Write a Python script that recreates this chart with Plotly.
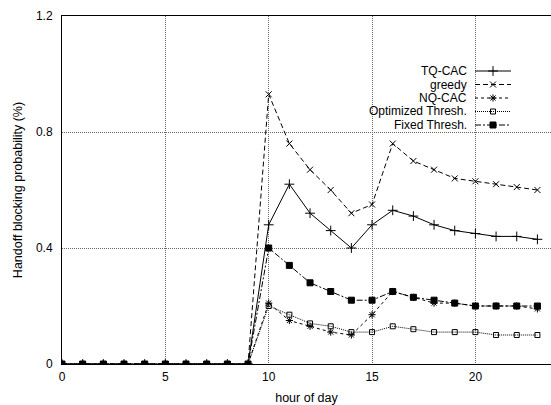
import plotly.graph_objects as go

# Handoff blocking probability (%) per hour of day for each admission scheme
hours = [0, 1, 2, 3, 4, 5, 6, 7, 8, 9, 10, 11, 12, 13, 14, 15, 16, 17, 18, 19, 20, 21, 22, 23]
tq_cac = [0, 0, 0, 0, 0, 0, 0, 0, 0, 0, 0.48, 0.62, 0.52, 0.46, 0.40, 0.48, 0.53, 0.51, 0.48, 0.46, 0.45, 0.44, 0.44, 0.43]
greedy = [0, 0, 0, 0, 0, 0, 0, 0, 0, 0, 0.93, 0.76, 0.67, 0.60, 0.52, 0.55, 0.76, 0.70, 0.67, 0.64, 0.63, 0.62, 0.61, 0.60]
nq_cac = [0, 0, 0, 0, 0, 0, 0, 0, 0, 0, 0.21, 0.15, 0.13, 0.11, 0.10, 0.17, 0.25, 0.23, 0.21, 0.21, 0.20, 0.20, 0.20, 0.19]
opt_thresh = [0, 0, 0, 0, 0, 0, 0, 0, 0, 0, 0.20, 0.17, 0.14, 0.13, 0.11, 0.11, 0.13, 0.12, 0.11, 0.11, 0.11, 0.10, 0.10, 0.10]
fixed_thresh = [0, 0, 0, 0, 0, 0, 0, 0, 0, 0, 0.40, 0.34, 0.28, 0.25, 0.22, 0.22, 0.25, 0.23, 0.22, 0.21, 0.20, 0.20, 0.20, 0.20]

series_names = ["TQ-CAC", "greedy", "NQ-CAC", "Optimized Thresh.", "Fixed Thresh."]
x_ticks = [0, 5, 10, 15, 20]
y_ticks = [0, 0.4, 0.8, 1.2]

W, H = 551, 405
ML, MR, MT, MB = 62, 0, 16, 41
FONT = "Liberation Sans, Arial, sans-serif"

styles = [
    dict(dash="solid", symbol="cross-thin", size=7),
    dict(dash="5px,3px", symbol="x-thin", size=6),
    dict(dash="3px,3px", symbol="asterisk", size=6),
    dict(dash="1px,1px", symbol="square-open", size=5),
    dict(dash="6px,2px,2px,2px", symbol="square", size=6),
]
values = [tq_cac, greedy, nq_cac, opt_thresh, fixed_thresh]

fig = go.Figure()

for name, ys, st in zip(series_names, values, styles):
    fig.add_trace(go.Scatter(
        x=hours, y=ys, name=name, mode="lines+markers",
        line=dict(color="black", width=1, dash=st["dash"]),
        marker=dict(symbol=st["symbol"], size=st["size"], color="black",
                    line=dict(color="black", width=1)),
        showlegend=False,
    ))

# Key drawn at the top right: right-aligned labels followed by line samples
pw = W - ML - MR
ph = H - MT - MB


def fx(px):
    return (px - ML) / pw


def fy(py):
    return 1 - (py - MT) / ph


key_rows = [71, 84.5, 98, 111.5, 125]
text_right = 468
samp_l, samp_r, samp_m = 475, 511, 493

fig.add_shape(type="rect", xref="paper", yref="paper",
              x0=fx(343), x1=fx(548), y0=fy(130), y1=fy(65),
              fillcolor="white", line=dict(width=0), layer="between")

for name, row, st in zip(series_names, key_rows, styles):
    fig.add_annotation(x=fx(text_right), y=fy(row), xref="paper", yref="paper",
                       text=name, showarrow=False, xanchor="right", yanchor="middle",
                       borderpad=0,
                       font=dict(family=FONT, size=12, color="black"))
    fig.add_trace(go.Scatter(
        x=[fx(samp_l), fx(samp_r)], y=[fy(row), fy(row)], mode="lines",
        xaxis="x2", yaxis="y2", showlegend=False, hoverinfo="skip",
        line=dict(color="black", width=1, dash=st["dash"]),
    ))
    fig.add_trace(go.Scatter(
        x=[fx(samp_m)], y=[fy(row)], mode="markers",
        xaxis="x2", yaxis="y2", showlegend=False, hoverinfo="skip",
        marker=dict(symbol=st["symbol"], size=st["size"], color="black",
                    line=dict(color="black", width=1)),
    ))

grid_style = dict(showgrid=True, gridcolor="#666666", gridwidth=1, griddash="1px,1px")

fig.update_layout(
    width=W, height=H,
    margin=dict(l=ML, r=MR, t=MT, b=MB, pad=0),
    paper_bgcolor="white", plot_bgcolor="white",
    font=dict(family=FONT, size=12, color="black"),
    xaxis=dict(
        range=[0, (W - ML) / 20.67], tickvals=x_ticks, ticks="",
        showline=True, linecolor="black", linewidth=1, mirror=True,
        zeroline=False, ticklabelstandoff=2,
        title=dict(text="hour of day", standoff=9,
                   font=dict(family=FONT, size=12.5)),
        **grid_style,
    ),
    yaxis=dict(
        range=[0, 1.2], tickvals=y_ticks, ticks="",
        showline=True, linecolor="black", linewidth=1, mirror=False,
        zeroline=False, ticklabelstandoff=6,
        title=dict(text="Handoff blocking probability (%)", standoff=10,
                   font=dict(family=FONT, size=12.5)),
        **grid_style,
    ),
    xaxis2=dict(overlaying="x", range=[0, 1], visible=False, fixedrange=True),
    yaxis2=dict(overlaying="y", range=[0, 1], visible=False, fixedrange=True),
)

fig.write_html("out.html")
